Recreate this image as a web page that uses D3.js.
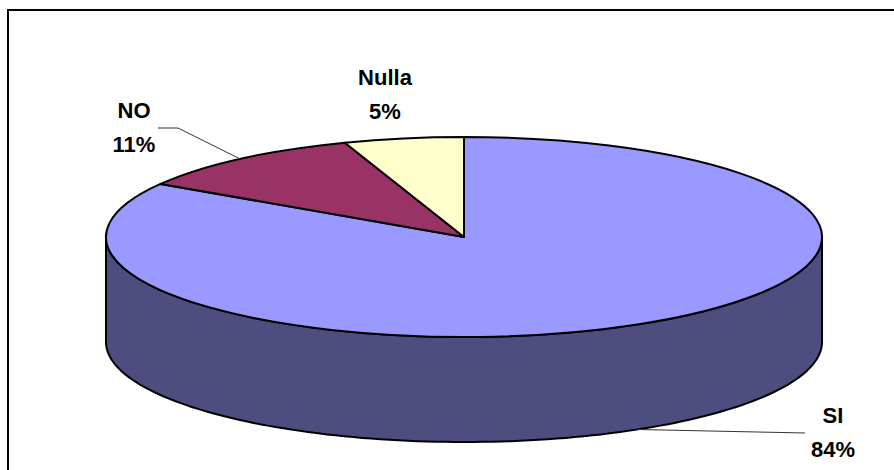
<!DOCTYPE html>
<html>
<head>
<meta charset="utf-8">
<script src="https://cdn.jsdelivr.net/npm/d3@7"></script>
<style>
  body { margin: 0; background: #fff; }
  svg { display: block; }
  .lbl { font-family: "Liberation Sans", Arial, sans-serif; font-weight: bold; font-size: 22px; fill: #000; }
</style>
</head>
<body>
<div id="chart"></div>
<script>
// data
const categories = ["SI", "NO", "Nulla"]
const values = [83.9, 10.7, 5.4]
const labels = ["84%", "11%", "5%"]
const topColors = ["#9999ff", "#993366", "#ffffcc"]
const sideColors = ["#4d4d80", "#4d1a33", "#808066"]

const width = 894
const height = 470

// ellipse geometry of the 3d pie
const cx = 464, cy = 237
const rx = 358, ry = 100
const depth = 105

// label layout (name line, value line) and leader lines
const labelLayout = [
  { x: 833, y: 423, leader: [[805, 433]] },
  { x: 134, y: 118, leader: [[178, 128], [158, 128]] },
  { x: 385, y: 85, leader: null }
]

var svg = d3.select("#chart")
          .append("svg")
            .attr("width", width)
            .attr("height", height)

// chart frame
svg.append("rect")
    .attr("x", 8)
    .attr("y", 10)
    .attr("width", width)
    .attr("height", height)
    .attr("fill", "none")
    .attr("stroke", "#000")
    .attr("stroke-width", 2)

var pie = d3.pie().sort(null).startAngle(0).endAngle(2 * Math.PI)
var arcs = pie(values)

// point on the ellipse for a d3 angle (0 = 12 o'clock, clockwise)
function pt(a, dy) {
  return [cx + rx * Math.sin(a), cy - ry * Math.cos(a) + (dy || 0)]
}

var line = d3.line()

// side wall: only the front half is visible (angles PI/2 .. 3PI/2)
arcs.forEach((d, i) => {
  let a0 = Math.max(d.startAngle, Math.PI / 2)
  let a1 = Math.min(d.endAngle, 3 * Math.PI / 2)
  if (a1 <= a0) return
  let steps = d3.range(0, 121).map(k => a0 + (a1 - a0) * k / 120)
  let pts = steps.map(a => pt(a, 0))
    .concat(steps.slice().reverse().map(a => pt(a, depth)))
  svg.append("path")
      .attr("d", line(pts) + "Z")
      .attr("fill", sideColors[i])
      .attr("stroke", "#000")
      .attr("stroke-width", 2)
      .attr("stroke-linejoin", "round")
})

// top face slices
var r = 100
var arc = d3.arc().innerRadius(0).outerRadius(r)

svg.append("g")
    .attr("transform", `translate(${cx},${cy}) scale(${rx / r},${ry / r})`)
  .selectAll("path")
  .data(arcs).enter()
  .append("path")
    .attr("d", arc)
    .attr("fill", (d, i) => topColors[i])
    .attr("stroke", "#000")
    .attr("stroke-width", 2)
    .attr("stroke-linejoin", "round")
    .attr("vector-effect", "non-scaling-stroke")

// leader lines from slice edge to label
arcs.forEach((d, i) => {
  let lay = labelLayout[i]
  if (!lay.leader) return
  let mid = (d.startAngle + d.endAngle) / 2
  // lower half slices anchor on the bottom edge of the wall
  let onFront = Math.cos(mid) < 0
  let start = pt(mid, onFront ? depth : 0)
  let pts = [start].concat(lay.leader)
  svg.append("path")
      .attr("d", line(pts))
      .attr("fill", "none")
      .attr("stroke", "#333")
      .attr("stroke-width", 1)
})

// labels
var lbl = svg.selectAll(".lblgroup")
  .data(arcs).enter()
  .append("text")
    .attr("class", "lbl")
    .attr("text-anchor", "middle")

lbl.append("tspan")
    .attr("x", (d, i) => labelLayout[i].x)
    .attr("y", (d, i) => labelLayout[i].y)
    .text((d, i) => categories[i])

lbl.append("tspan")
    .attr("x", (d, i) => labelLayout[i].x)
    .attr("y", (d, i) => labelLayout[i].y + 34)
    .text((d, i) => labels[i])
</script>
</body>
</html>
